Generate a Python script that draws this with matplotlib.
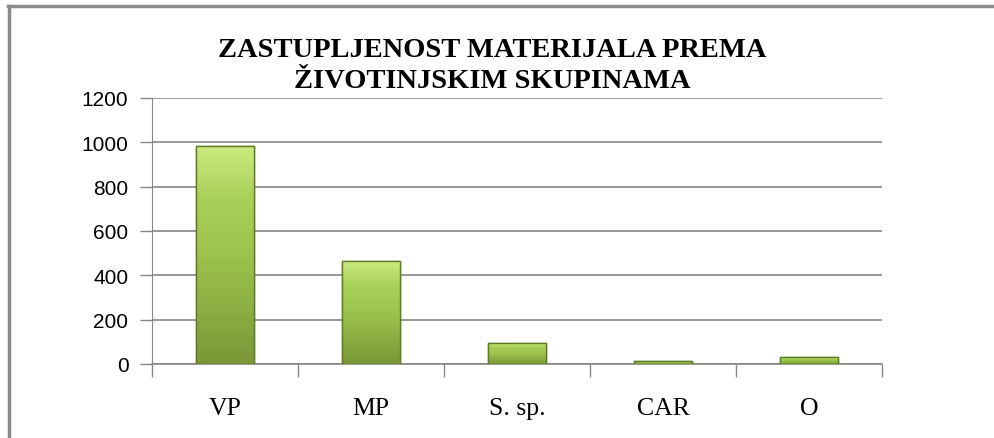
import matplotlib.pyplot as plt
import numpy as np
from matplotlib.colors import LinearSegmentedColormap
from matplotlib.lines import Line2D

# Chart data
categories = ['VP', 'MP', 'S. sp.', 'CAR', 'O']
values = [985, 465, 95, 12, 30]
y_ticks = [0, 200, 400, 600, 800, 1000, 1200]
title = 'ZASTUPLJENOST MATERIJALA PREMA\nŽIVOTINJSKIM SKUPINAMA'

W, H = 994, 439
fig = plt.figure(figsize=(W / 100, H / 100), dpi=100)
fig.patch.set_facecolor('white')

# plot area in pixel coords of the reference
left, right, top, bottom = 152, 882, 99, 365
ax = fig.add_axes([left / W, 1 - bottom / H, (right - left) / W, (bottom - top) / H])

x = np.arange(len(categories))
bars = ax.bar(x, values, width=0.4, color='#93B847', edgecolor='#5E7A24',
              linewidth=1.0, zorder=3)

# vertical gradient for a bevelled look
cmap = LinearSegmentedColormap.from_list(
    'bar', ['#7A9636', '#8CAE42', '#9CC34D', '#A8CF58', '#CDEB80'])
grad = np.linspace(0, 1, 256).reshape(-1, 1)
for b in bars:
    x0, w, h = b.get_x(), b.get_width(), b.get_height()
    im = ax.imshow(grad, cmap=cmap, origin='lower', aspect='auto',
                   extent=(x0, x0 + w, 0, h), zorder=3.5)
    im.set_clip_path(b)
    ax.bar(b.get_x() + w / 2, h, width=w, fill=False, edgecolor='#5E7A24',
           linewidth=1.0, zorder=4)

ax.set_xlim(-0.5, len(categories) - 0.5)
ax.set_ylim(0, 1200)
ax.set_yticks(y_ticks)
ax.set_yticklabels([str(t) for t in y_ticks], fontsize=15,
                   family='Liberation Sans')
ax.set_xticks(x)
ax.set_xticklabels(categories, fontsize=18.5, family='Liberation Serif')
ax.tick_params(axis='x', length=0, pad=24)
ax.tick_params(axis='y', length=9, width=1, color='#868686', pad=8)
ax.set_xticks(np.arange(len(categories) + 1) - 0.5, minor=True)
ax.tick_params(axis='x', which='minor', length=9, width=1, color='#868686')

ax.grid(axis='y', color='#868686', linewidth=1.2, zorder=0)
for side in ['top', 'right']:
    ax.spines[side].set_visible(False)
ax.spines['left'].set_color('#868686')
ax.spines['bottom'].set_color('#868686')
ax.spines['bottom'].set_linewidth(1.2)

fig.text(0.4955, 1 - 66 / H, title, ha='center', va='center', fontsize=20.5,
         fontweight='bold', family='Liberation Serif', linespacing=1.32)

# outer frame (top and left only)
fig.add_artist(Line2D([8 / W, 1], [1 - 7 / H, 1 - 7 / H], color='#8A8A8A',
                      linewidth=2.5, transform=fig.transFigure))
fig.add_artist(Line2D([9 / W, 9 / W], [0, 1 - 7 / H], color='#8A8A8A',
                      linewidth=2.5, transform=fig.transFigure))

fig.savefig('out.png', dpi=100)
